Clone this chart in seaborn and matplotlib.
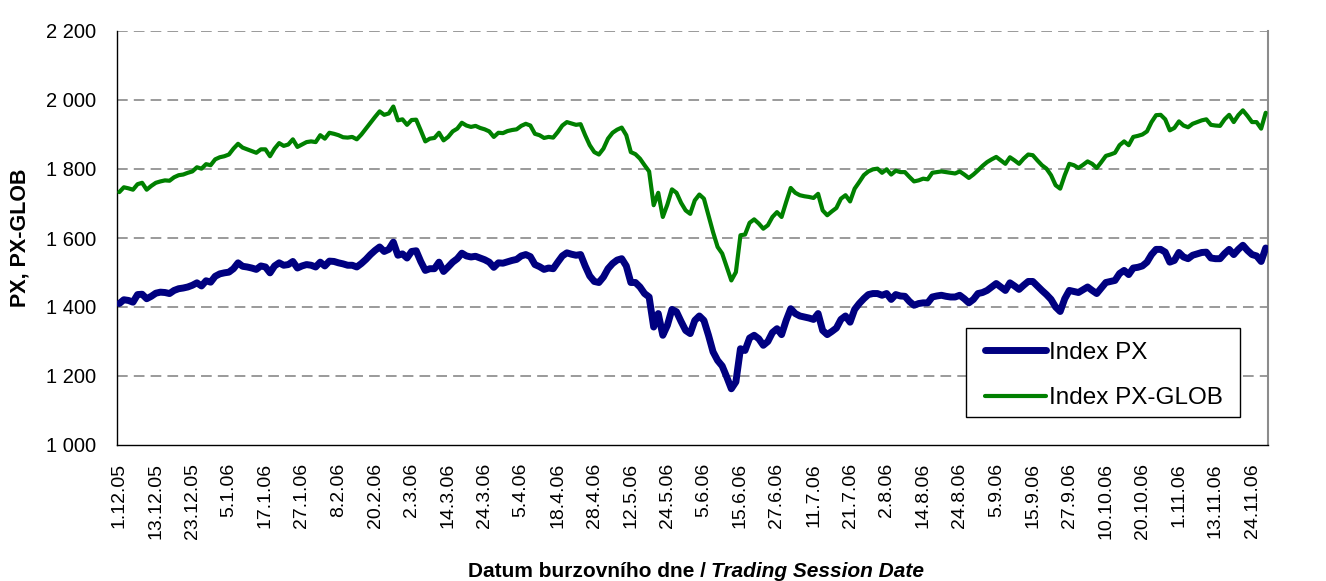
import matplotlib
matplotlib.use("Agg")
import matplotlib.pyplot as plt
import seaborn as sns
import pandas as pd
import numpy as np
from matplotlib.lines import Line2D
from matplotlib.patches import Rectangle

# ---- data ----
series_names = ["Index PX", "Index PX-GLOB"]

px_values = [
    1410, 1421, 1419, 1414, 1436, 1437, 1424, 1431, 1440, 1443,
    1442, 1439, 1448, 1453, 1455, 1458, 1463, 1470, 1461, 1476,
    1472, 1489, 1496, 1499, 1501, 1511, 1528, 1518, 1516, 1513,
    1509, 1519, 1516, 1499, 1519, 1528, 1521, 1523, 1532, 1513,
    1519, 1523, 1521, 1516, 1530, 1519, 1533, 1532, 1528, 1525,
    1521, 1521, 1516, 1526, 1538, 1552, 1564, 1574, 1561, 1567,
    1588, 1550, 1554, 1542, 1561, 1563, 1532, 1506, 1511, 1511,
    1530, 1503, 1516, 1530, 1540, 1556, 1548, 1545, 1547, 1542,
    1537, 1530, 1515, 1528, 1527, 1531, 1535, 1538, 1548, 1552,
    1546, 1523, 1517, 1509, 1513, 1511, 1530, 1548, 1557, 1553,
    1550, 1552, 1519, 1490, 1474, 1471, 1487, 1511, 1526, 1536,
    1540, 1519, 1471, 1471, 1458, 1439, 1429, 1342, 1381, 1318,
    1347, 1393, 1386, 1358, 1332, 1323, 1361, 1374, 1361, 1318,
    1270, 1245, 1229, 1197, 1163, 1183, 1279, 1274, 1310, 1318,
    1308, 1289, 1300, 1326, 1337, 1320, 1361, 1395, 1381, 1374,
    1371, 1368, 1364, 1381, 1332, 1320, 1329, 1339, 1364, 1374,
    1356, 1393, 1410, 1424, 1436, 1439, 1439, 1434, 1439, 1422,
    1436, 1432, 1431, 1416, 1405, 1410, 1412, 1412, 1429, 1432,
    1434, 1431, 1429, 1429, 1434, 1424, 1412, 1422, 1439, 1442,
    1448, 1458, 1468, 1458, 1448, 1470, 1461, 1451, 1463, 1474,
    1474, 1461, 1448, 1436, 1422, 1400, 1387, 1424, 1448, 1445,
    1442, 1450, 1458, 1448, 1439, 1455, 1471, 1474, 1477, 1497,
    1506, 1494, 1513, 1515, 1519, 1530, 1552, 1567, 1567, 1559,
    1530, 1535, 1558, 1545, 1540, 1550, 1554, 1558, 1559, 1542,
    1540, 1540, 1555, 1567, 1552, 1567, 1579, 1564, 1552, 1548,
    1532, 1571,
]

pxglob_values = [
    1733, 1747, 1744, 1740, 1756, 1760, 1740, 1751, 1760, 1764,
    1767, 1766, 1776, 1782, 1784, 1789, 1793, 1805, 1801, 1814,
    1811, 1828, 1834, 1837, 1842, 1859, 1873, 1862, 1857, 1852,
    1847, 1857, 1857, 1837, 1859, 1875, 1867, 1871, 1886, 1864,
    1871, 1878, 1880, 1878, 1898, 1888, 1905, 1902, 1898, 1892,
    1891, 1893, 1886, 1900, 1917, 1934, 1951, 1967, 1957, 1961,
    1981, 1941, 1944, 1928, 1942, 1943, 1912, 1880, 1888, 1890,
    1905, 1883, 1893, 1909, 1917, 1934, 1926, 1922, 1925, 1919,
    1915, 1909, 1893, 1905, 1904, 1910, 1913, 1915, 1925, 1931,
    1926, 1902, 1898, 1890, 1893, 1891, 1907, 1926, 1936, 1932,
    1928, 1930, 1898, 1869, 1849, 1842, 1859, 1888, 1905, 1914,
    1920, 1898, 1849, 1843, 1830, 1811, 1793, 1695, 1731, 1661,
    1697, 1741, 1731, 1702, 1680, 1670, 1709, 1726, 1714, 1666,
    1617, 1574, 1555, 1516, 1477, 1501, 1608, 1610, 1644, 1654,
    1642, 1627, 1637, 1661, 1675, 1661, 1704, 1745, 1731, 1724,
    1721, 1719, 1716, 1728, 1680, 1666, 1677, 1687, 1714, 1724,
    1706, 1743, 1762, 1782, 1793, 1799, 1801, 1789, 1799, 1784,
    1795, 1791, 1791, 1777, 1764, 1767, 1772, 1770, 1789, 1791,
    1793, 1791, 1789, 1787, 1793, 1784, 1774, 1784, 1796, 1809,
    1820, 1828, 1835, 1825, 1815, 1834, 1825, 1815, 1830, 1842,
    1840, 1825, 1811, 1801, 1782, 1753, 1743, 1782, 1815, 1811,
    1803, 1812, 1822, 1815, 1803, 1820, 1838, 1842, 1847, 1869,
    1880, 1869, 1893, 1896, 1900, 1909, 1936, 1956, 1957, 1944,
    1912, 1919, 1938, 1926, 1921, 1931, 1936, 1941, 1944, 1928,
    1926, 1925, 1944, 1957, 1936, 1956, 1970, 1954, 1936, 1936,
    1917, 1963,
]

date_labels = [
    "1.12.05", "13.12.05", "23.12.05", "5.1.06", "17.1.06", "27.1.06",
    "8.2.06", "20.2.06", "2.3.06", "14.3.06", "24.3.06", "5.4.06",
    "18.4.06", "28.4.06", "12.5.06", "24.5.06", "5.6.06", "15.6.06",
    "27.6.06", "11.7.06", "21.7.06", "2.8.06", "14.8.06", "24.8.06",
    "5.9.06", "15.9.06", "27.9.06", "10.10.06", "20.10.06", "1.11.06",
    "13.11.06", "24.11.06",
]
y_ticks = [1000, 1200, 1400, 1600, 1800, 2000, 2200]

# ---- build long table ----
n = len(px_values)
session = np.arange(n) + 0.5
df = pd.concat([
    pd.DataFrame({"session": session, "value": px_values, "series": series_names[0]}),
    pd.DataFrame({"session": session, "value": pxglob_values, "series": series_names[1]}),
], ignore_index=True)

# ---- style ----
sns.set_style("white")
plt.rcParams["font.family"] = ["Liberation Sans", "DejaVu Sans"]
plt.rcParams["text.color"] = "black"
plt.rcParams["xtick.color"] = "black"
plt.rcParams["ytick.color"] = "black"
plt.rcParams["axes.labelcolor"] = "black"

W, H = 1326, 581
fig = plt.figure(figsize=(W / 100, H / 100), dpi=100)
L, R, T, B = 117, 1268, 31, 445
ax = fig.add_axes([L / W, 1 - B / H, (R - L) / W, (B - T) / H])

palette = {"Index PX": "#000080", "Index PX-GLOB": "#008000"}
sns.lineplot(data=df, x="session", y="value", hue="series", palette=palette,
             ax=ax, legend=False, sort=False)
lines = ax.get_lines()
lines[0].set_linewidth(5.0)
lines[0].set_solid_capstyle("round")
lines[0].set_solid_joinstyle("round")
lines[1].set_linewidth(3.0)
lines[1].set_solid_joinstyle("round")
lines[0].set_zorder(4)
lines[1].set_zorder(3)

ax.set_xlim(0, n)
ax.set_ylim(1000, 2200)

# grid
for yv in y_ticks[1:]:
    ax.axhline(yv, color="#7f7f7f", lw=1.1, ls=(0, (7, 4)), zorder=1)

# spines
for s in ["left", "bottom"]:
    ax.spines[s].set_color("#000000")
    ax.spines[s].set_linewidth(1.0)
ax.spines["top"].set_visible(False)
ax.spines["right"].set_color("#8c8c8c")
ax.spines["right"].set_linewidth(1.5)

# y axis
ax.set_yticks(y_ticks)
ax.set_yticklabels([f"{v:,}".replace(",", " ") for v in y_ticks], fontsize=14.5)
ax.tick_params(axis="y", which="major", direction="out", length=6, width=1,
               pad=9, color="#000000", labelcolor="black")

# x axis: tick marks every 9 sessions, labels every 8 sessions
ax.set_xticks(np.arange(0, n + 1, 9))
ax.set_xticklabels([])
ax.set_xticks(np.arange(0, n, 8)[:len(date_labels)] + 0.5, minor=True)
ax.set_xticklabels(date_labels, minor=True, rotation=90, fontsize=14)
ax.tick_params(axis="x", which="major", direction="out", length=6, width=1, color="#000000")
ax.tick_params(axis="x", which="minor", length=0, pad=13, labelcolor="black")
ax.set_xlabel("")
ax.set_ylabel("")

# axis titles
fig.text(20 / W, 1 - 238 / H, "PX, PX-GLOB", rotation=90, fontsize=15.5,
         fontweight="bold", ha="center", va="center", color="black")

fig.canvas.draw()
renderer = fig.canvas.get_renderer()
t1 = fig.text(0, 0, "Datum burzovního dne / ", fontsize=15, fontweight="bold", color="black")
t2 = fig.text(0, 0, "Trading Session Date", fontsize=15, fontweight="bold", style="italic",
              color="black")
w1 = t1.get_window_extent(renderer).width
w2 = t2.get_window_extent(renderer).width
cx = 696
y_base = 1 - 577 / H
x0 = cx - (w1 + w2) / 2
t1.set_position((x0 / W, y_base))
t2.set_position(((x0 + w1) / W, y_base))

# legend: frame drawn as a rectangle, entries placed inside it
fx0, fx1, fy0, fy1 = 966, 1240, 328, 417
frame = Rectangle(((fx0 - L) / (R - L), (B - fy1) / (B - T)),
                  (fx1 - fx0) / (R - L), (fy1 - fy0) / (B - T),
                  transform=ax.transAxes, facecolor="white", edgecolor="black",
                  lw=1.0, zorder=5)
ax.add_patch(frame)
handles = [Line2D([], [], color="#000080", lw=5, solid_capstyle="round"),
           Line2D([], [], color="#008000", lw=3)]
leg = ax.legend(handles, series_names, loc="center left",
                bbox_to_anchor=((985 - L) / (R - L), (B - 375.5) / (B - T)),
                fontsize=17.5, frameon=False, handlelength=2.5, handletextpad=0.15,
                labelspacing=0.97, borderpad=0, borderaxespad=0)
leg.set_zorder(6)
for t in leg.get_texts():
    t.set_color("black")

fig.savefig("out.png", dpi=100, facecolor="white")
